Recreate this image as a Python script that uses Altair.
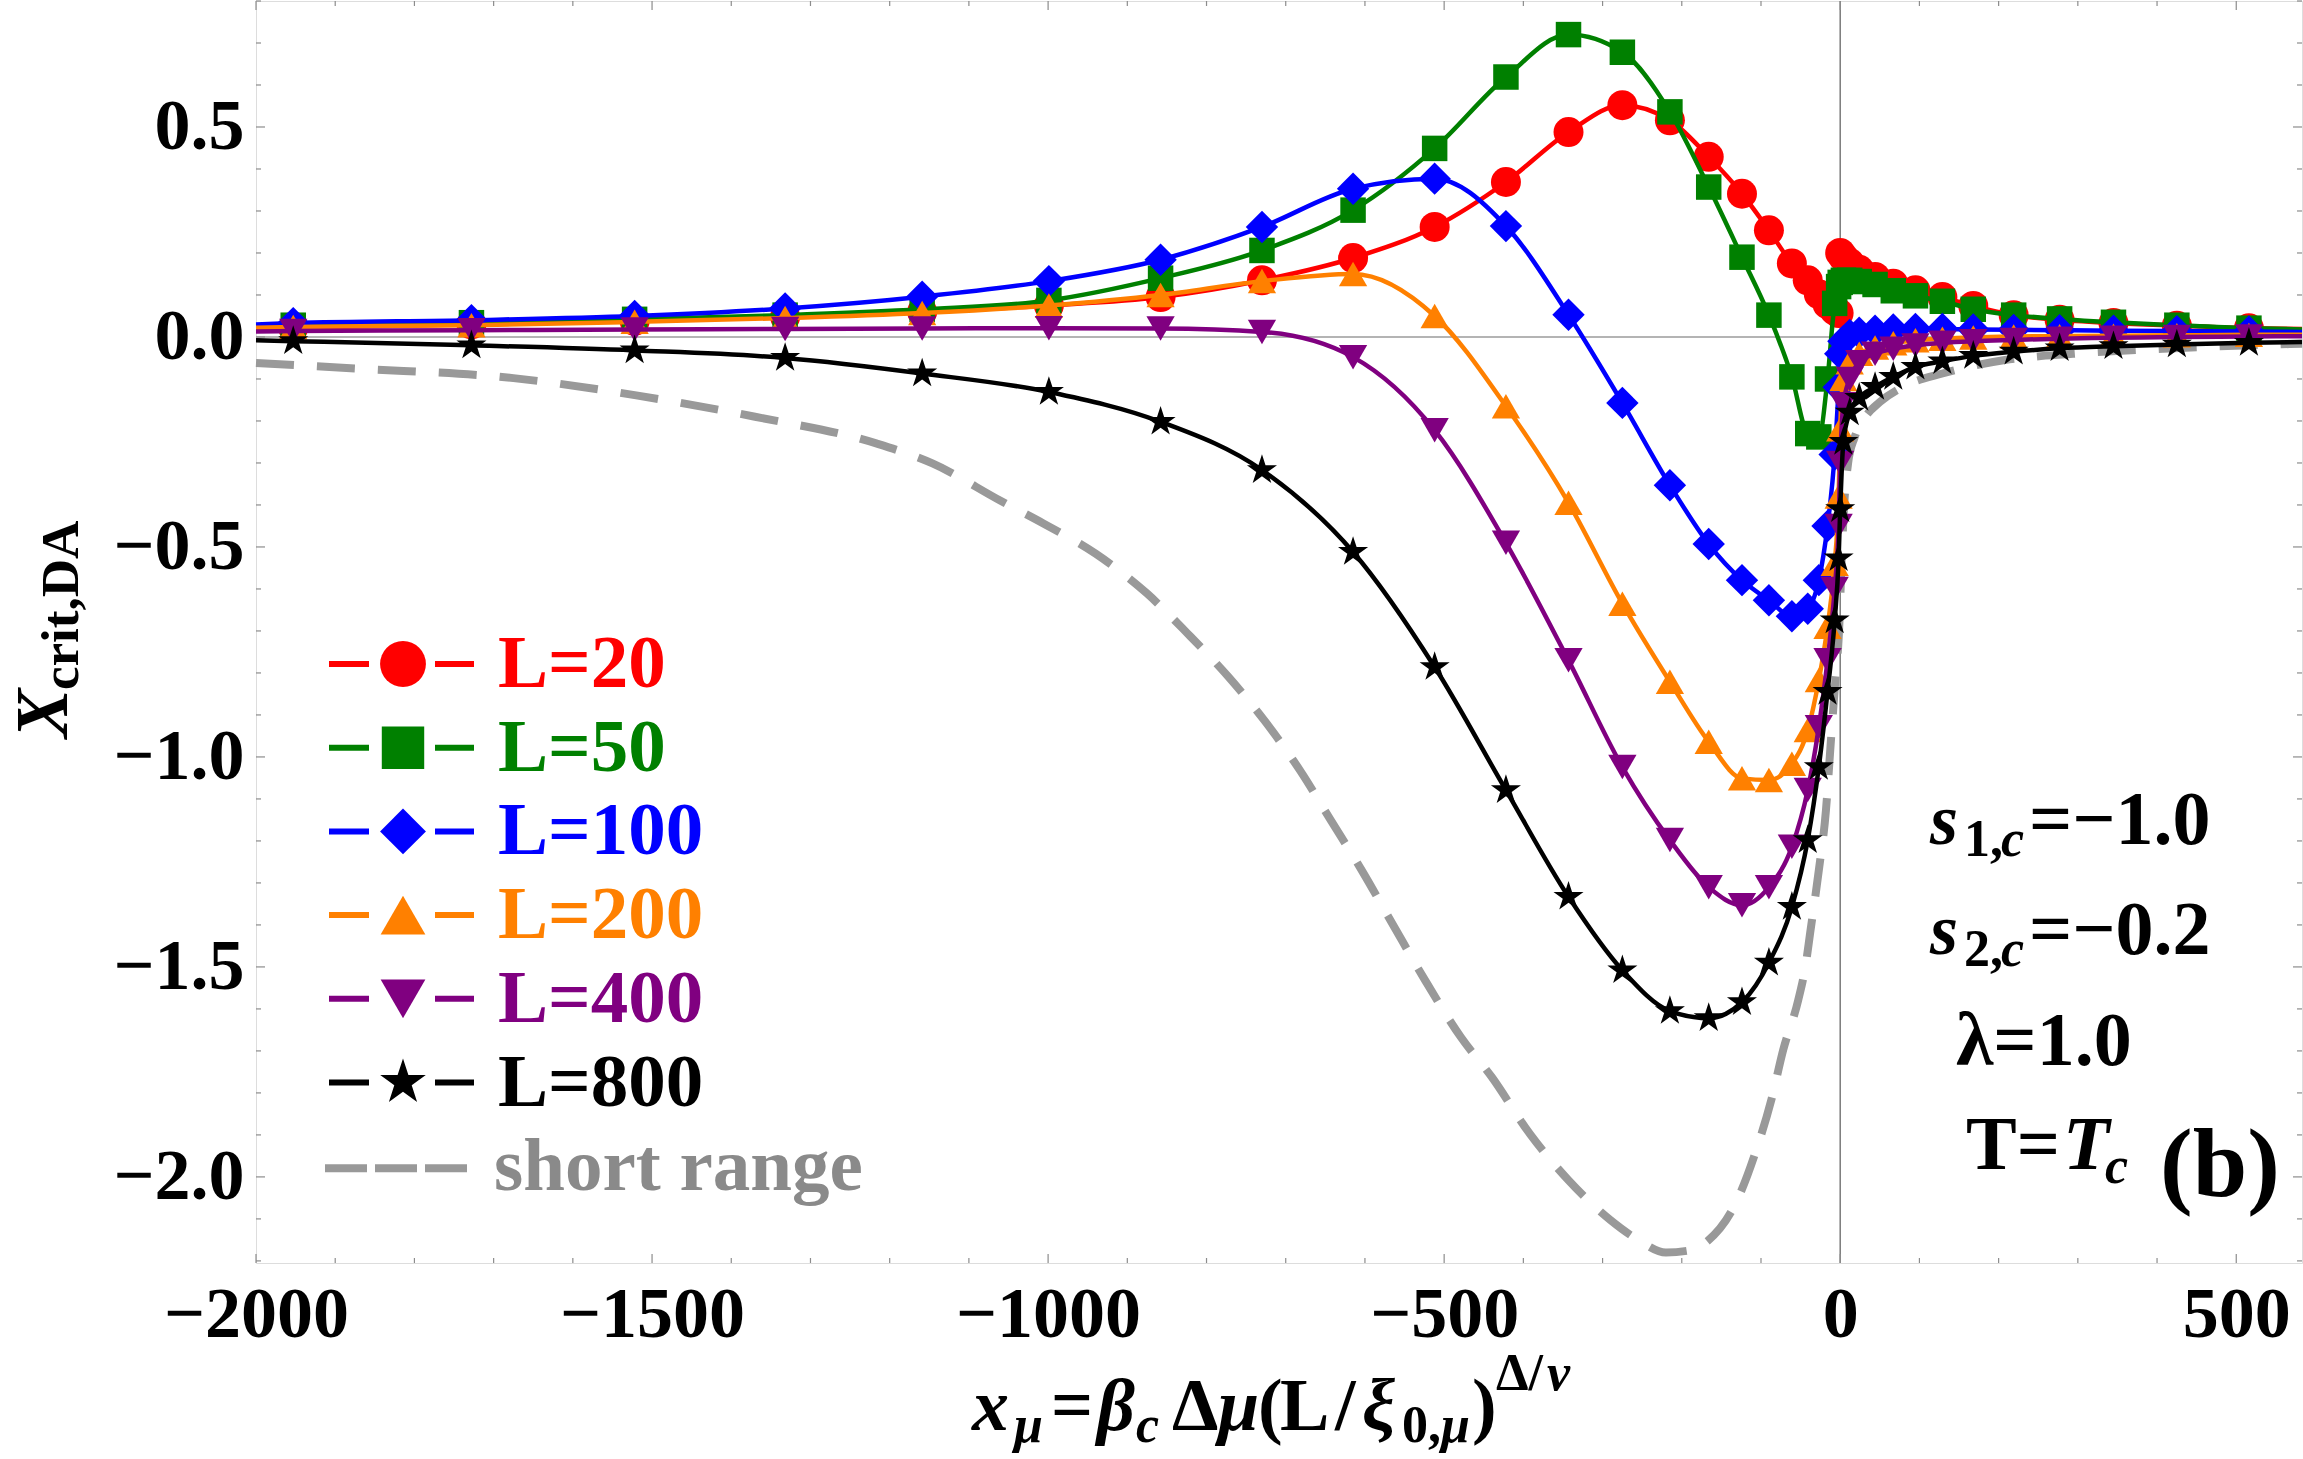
import altair as alt
import pandas as pd
import numpy as np

# ---------------- data ----------------
XL = [-2000, -1953, -1728, -1522, -1332, -1159, -999, -858, -730, -615, -512, -422,
      -343, -275, -215, -166, -124, -90, -61, -41, -27, -16, -7, -2]
XR = [0, 4, 12, 24, 44, 67, 95, 129, 168, 219, 277, 345, 425, 516, 583]
X_GRID = XL + XR

Y_L20 = [0.020, 0.022, 0.030, 0.038, 0.048, 0.060, 0.075, 0.095, 0.135, 0.188, 0.262, 0.369,
         0.488, 0.552, 0.516, 0.429, 0.341, 0.254, 0.175, 0.135, 0.102, 0.078, 0.063, 0.057,
         0.200, 0.190, 0.176, 0.160, 0.143, 0.127, 0.111, 0.095, 0.074, 0.052, 0.041, 0.033, 0.027, 0.021, 0.019]
Y_L50 = [0.026, 0.028, 0.034, 0.042, 0.052, 0.066, 0.087, 0.140, 0.206, 0.302, 0.449, 0.619,
         0.720, 0.678, 0.536, 0.357, 0.190, 0.052, -0.095, -0.230, -0.238, -0.100, 0.080, 0.120,
         0.130, 0.135, 0.135, 0.132, 0.125, 0.110, 0.098, 0.085, 0.066, 0.052, 0.043, 0.035, 0.028, 0.021, 0.018]
Y_L100 = [0.030, 0.033, 0.040, 0.050, 0.068, 0.096, 0.133, 0.184, 0.262, 0.353, 0.377, 0.264,
          0.053, -0.157, -0.353, -0.493, -0.579, -0.627, -0.665, -0.647, -0.579, -0.450, -0.280, -0.120,
          -0.040, -0.010, 0.005, 0.010, 0.015, 0.018, 0.019, 0.019, 0.018, 0.017, 0.016, 0.015, 0.014, 0.013, 0.012]
Y_L200 = [0.022, 0.024, 0.028, 0.036, 0.045, 0.057, 0.075, 0.100, 0.133, 0.150, 0.050, -0.165,
          -0.395, -0.635, -0.821, -0.964, -1.051, -1.055, -1.016, -0.936, -0.817, -0.690, -0.540, -0.380,
          -0.220, -0.100, -0.060, -0.040, -0.025, -0.015, -0.008, -0.004, -0.001, 0.001, 0.002, 0.003, 0.004, 0.005, 0.005]
Y_L400 = [0.013, 0.014, 0.016, 0.018, 0.019, 0.020, 0.021, 0.020, 0.012, -0.048, -0.222, -0.490,
          -0.770, -1.024, -1.198, -1.310, -1.353, -1.310, -1.214, -1.079, -0.929, -0.770, -0.600, -0.450,
          -0.300, -0.160, -0.100, -0.060, -0.040, -0.028, -0.020, -0.014, -0.010, -0.007, -0.004, -0.002, 0.000, 0.001, 0.002]
Y_L800 = [-0.008, -0.010, -0.020, -0.032, -0.050, -0.087, -0.131, -0.202, -0.317, -0.512, -0.786, -1.079,
          -1.333, -1.508, -1.605, -1.622, -1.584, -1.490, -1.357, -1.198, -1.024, -0.845, -0.675, -0.527,
          -0.410, -0.250, -0.180, -0.145, -0.119, -0.095, -0.071, -0.058, -0.045, -0.035, -0.027, -0.022, -0.018, -0.014, -0.012]

X_SR = [-2000, -1875, -1675, -1520, -1370, -1216, -1146, -1060, -1006, -940, -875, -824, -772, -727,
        -682, -643, -604, -563, -524, -479, -440, -392, -343, -290, -255, -220, -190, -169, -130, -106,
        -87, -72, -53, -44, -38, -27, -18, -12, -7, -1, 2, 5, 10, 18, 30, 50, 80, 129, 208, 294, 408, 583]
Y_SR = [-0.062, -0.075, -0.098, -0.139, -0.190, -0.254, -0.301, -0.390, -0.444, -0.516, -0.611, -0.706,
        -0.810, -0.913, -1.032, -1.151, -1.270, -1.405, -1.532, -1.667, -1.762, -1.897, -2.008, -2.103,
        -2.150, -2.180, -2.175, -2.155, -2.055, -1.936, -1.817, -1.698, -1.579, -1.500, -1.420, -1.270,
        -1.127, -0.968, -0.840, -0.680, -0.520, -0.400, -0.300, -0.240, -0.195, -0.155, -0.118, -0.087,
        -0.055, -0.040, -0.028, -0.016]

SERIES = ["L=20", "L=50", "L=100", "L=200", "L=400", "L=800"]
SERIES_Y = [Y_L20, Y_L50, Y_L100, Y_L200, Y_L400, Y_L800]
SR_LABEL = "short range"

X_TICKS = [-2000, -1500, -1000, -500, 0, 500]
Y_TICKS = [-2.0, -1.5, -1.0, -0.5, 0.0, 0.5]

# ---------------- styles ----------------
STAR = ("M0,-1L0.2245,-0.309L0.9511,-0.309L0.3633,0.118L0.5878,0.809L0,0.382"
        "L-0.5878,0.809L-0.3633,0.118L-0.9511,-0.309L-0.2245,-0.309Z")
COLORS = ["#ff0000", "#008000", "#0000ff", "#ff8000", "#800080", "#000000"]
SHAPES = ["circle", "square", "diamond", "triangle-up", "triangle-down", STAR]
SIZES = [900, 650, 1050, 800, 800, 1000]
LEG_SIZES = [2100, 1800, 2100, 2000, 2000, 2300]
SR_COLOR = "#999999"
FRAME = "#8c8c8c"
FONT = "Liberation Serif"

W, H = 2046, 1262
PL, PT = 256, 1

xscale = alt.Scale(domain=[-2000, 583], nice=False, zero=False)
yscale = alt.Scale(domain=[-2.205, 0.8], nice=False, zero=False)
xaxis = alt.Axis(orient="bottom", values=X_TICKS, format="d", ticks=False, tickSize=0, domain=False,
                 grid=False, labelFont=FONT, labelFontWeight="bold", labelFontSize=72, labelColor="black",
                 labelPadding=16, labelFlush=False, labelOverlap=False, labelLimit=0, title=None)
yaxis = alt.Axis(orient="left", values=Y_TICKS, format=".1f", ticks=False, tickSize=0, domain=False,
                 grid=False, labelFont=FONT, labelFontWeight="bold", labelFontSize=72, labelColor="black",
                 labelPadding=12, labelOverlap=False, labelLimit=0, title=None)


def X(f):
    return alt.X(f, type="quantitative", scale=xscale, axis=xaxis)


def Y(f):
    return alt.Y(f, type="quantitative", scale=yscale, axis=yaxis)


one = pd.DataFrame({"z": [0]})
layers = []

# zero lines
layers.append(alt.Chart(one).mark_rule(color="#b4b4b4", strokeWidth=2).encode(y=Y("z")))
layers.append(alt.Chart(one).mark_rule(color="#7a7a7a", strokeWidth=1.5).encode(x=X("z")))

# frame ticks (inward)
y_minor = [v for v in np.round(np.arange(-2.2, 0.81, 0.1), 2) if not any(abs(v - m) < 1e-6 for m in Y_TICKS)]
x_minor = [v for v in range(-2000, 584, 100) if v not in X_TICKS]
for vals, ln in ((Y_TICKS, 9), (y_minor, 5)):
    d = pd.DataFrame({"t": vals})
    layers.append(alt.Chart(d).mark_rule(color=FRAME, strokeWidth=1.2).encode(
        y=Y("t"), x=alt.value(0), x2=alt.value(ln)))
    layers.append(alt.Chart(d).mark_rule(color=FRAME, strokeWidth=1.2).encode(
        y=Y("t"), x=alt.value(W - ln), x2=alt.value(W)))
for vals, ln in ((X_TICKS, 9), (x_minor, 5)):
    d = pd.DataFrame({"t": vals})
    layers.append(alt.Chart(d).mark_rule(color=FRAME, strokeWidth=1.2).encode(
        x=X("t"), y=alt.value(0), y2=alt.value(ln)))
    layers.append(alt.Chart(d).mark_rule(color=FRAME, strokeWidth=1.2).encode(
        x=X("t"), y=alt.value(H - ln), y2=alt.value(H)))

# short range curve
df_sr = pd.DataFrame({"x": X_SR, "y": Y_SR})
layers.append(alt.Chart(df_sr).mark_line(color=SR_COLOR, strokeWidth=8, strokeDash=[38, 23],
                                         interpolate="monotone", strokeCap="butt").encode(x=X("x"), y=Y("y")))

# series
for name, ys, col, shp, sz in zip(SERIES, SERIES_Y, COLORS, SHAPES, SIZES):
    d = pd.DataFrame({"x": X_GRID, "y": ys})
    layers.append(alt.Chart(d).mark_line(color=col, strokeWidth=4.5, interpolate="monotone").encode(
        x=X("x"), y=Y("y")))
    layers.append(alt.Chart(d).transform_filter("datum.x > -1990 && datum.x < 570").mark_point(
        shape=shp, filled=True, size=sz, color=col, opacity=1, strokeWidth=0).encode(x=X("x"), y=Y("y")))


def txt(s, x, y, size, italic=False, color="black", align="left", angle=None):
    props = dict(text=s, font=FONT, fontSize=size, fontWeight="bold",
                 fontStyle="italic" if italic else "normal", color=color, align=align,
                 baseline="alphabetic")
    if angle is not None:
        props["angle"] = angle
    return alt.Chart(one).mark_text(**props).encode(x=alt.value(x - PL), y=alt.value(y - PT))


# legend (positions in full-image pixels)
LEG_Y0, LEG_DY = 664, 83.7
for i, (name, col, shp, sz) in enumerate(zip(SERIES, COLORS, SHAPES, LEG_SIZES)):
    yy = LEG_Y0 + LEG_DY * i
    for a, b in ((329, 369), (435, 474)):
        layers.append(alt.Chart(one).mark_rule(color=col, strokeWidth=6).encode(
            x=alt.value(a - PL), x2=alt.value(b - PL), y=alt.value(yy - PT)))
    layers.append(alt.Chart(one).mark_point(shape=shp, filled=True, size=sz, color=col, opacity=1,
                                            strokeWidth=0).encode(x=alt.value(403 - PL), y=alt.value(yy - PT)))
    layers.append(txt(name, 498, yy + 23, 75, color=col))
yy = LEG_Y0 + LEG_DY * 6 + 2
layers.append(alt.Chart(one).mark_rule(color=SR_COLOR, strokeWidth=8, strokeDash=[42, 8]).encode(
    x=alt.value(325 - PL), x2=alt.value(467 - PL), y=alt.value(yy - PT)))
layers.append(txt(SR_LABEL, 494, yy + 22, 75, color="#8a8a8a"))

# annotations
layers += [
    txt("s", 1930, 844, 72, italic=True), txt("1,", 1964, 856, 52), txt("c", 2001, 856, 52, italic=True),
    txt("=\u22121.0", 2029, 844, 76),
    txt("s", 1930, 954, 72, italic=True), txt("2,", 1964, 966, 52), txt("c", 2001, 966, 52, italic=True),
    txt("=\u22120.2", 2029, 954, 76),
    txt("\u03bb=1.0", 1956, 1065, 76),
    txt("T=", 1966, 1169, 76), txt("T", 2063, 1169, 76, italic=True), txt("c", 2105, 1183, 52, italic=True),
    txt("(b)", 2160, 1196, 98),
]

# x axis title
BX, BS, BP = 1430, 1442, 1390
layers += [
    txt("x", 972, BX, 74, italic=True), txt("\u03bc", 1014, BS, 52, italic=True),
    txt("=", 1051, BX, 74), txt("\u03b2", 1097, BX, 74, italic=True), txt("c", 1136, BS, 52, italic=True),
    txt("\u0394", 1172, BX, 74), txt("\u03bc", 1218, BX, 74, italic=True),
    txt("(", 1258, BX, 74), txt("L", 1280, BX, 74), txt("/", 1335, BX, 74),
    txt("\u03be", 1362, BX, 74, italic=True), txt("0,", 1402, BS, 52), txt("\u03bc", 1441, BS, 52, italic=True),
    txt(")", 1472, BX, 74), txt("\u0394/", 1496, BP, 52), txt("\u03bd", 1547, BP, 52, italic=True),
]

# y axis title (rotated)
layers += [
    txt("X", 67, 738, 74, italic=True, angle=270),
    txt("crit,DA", 78, 690, 53, angle=270),
]

chart = alt.layer(*layers).properties(
    width=W, height=H,
    padding={"left": PL, "top": PT, "right": 1, "bottom": 196},
    autosize=alt.AutoSizeParams(type="none"),
).configure_view(stroke=FRAME, strokeWidth=1.5).configure(background="white")

chart.save("out.html", embed_options={"renderer": "svg", "actions": False})
